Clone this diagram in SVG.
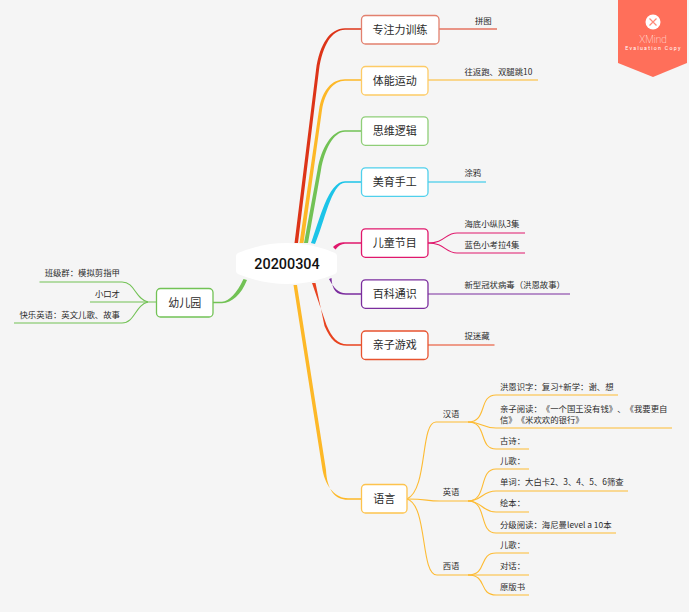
<svg xmlns="http://www.w3.org/2000/svg" width="689" height="612" viewBox="0 0 689 612">
<style>
text{font-family:"Noto Sans CJK SC","Noto Sans",Roboto,sans-serif;fill:#2b2b2b;text-spacing-trim:space-all}
.t{font-size:11px;text-anchor:middle}
.s{font-size:8.4px}
.e{text-anchor:end}
.n{fill:#fff;stroke-width:1.3}
.l{fill:none;stroke-width:1.1}
.org{stroke:#FDBB33}
</style>
<rect width="689" height="612" fill="#F5F5F5"/>
<g id="connectors">
<path fill="#DD3418" d="M294.500 243L316 70C319.500 44 330 28.200 345 28.200H361V29.800H345C331.500 29.800 322.500 46 319 70L298 243Z"/>
<path fill="#FDB827" d="M299.500 243L319 110C322 90 332 79.200 345 79.200H361V80.800H345C333.500 80.800 325 92 322 110L303.500 243Z"/>
<path fill="#72C255" d="M304 243L317.500 170C321 148 332 130.200 345 130.200H361V131.800H345C333.500 131.800 324.500 150 321 170L308 243Z"/>
<path fill="#1CC4E8" d="M311 243C319 222 328 181.200 345 181.200H361V182.800H345C331.500 182.800 324 224 315 244Z"/>
<path fill="#E0186C" d="M333 247C337 243.500 340 242.200 345 242.200H361V243.800H345C341 243.800 338.500 246 335.500 249.500Z"/>
<path fill="#7B2D9E" d="M329 279C334 288 338 293.200 346 293.200H361V294.800H346C337 294.800 332 291 331.500 278Z"/>
<path fill="#E8431F" d="M312 283L326.500 325C332 338 338 344.200 347 344.200H361V345.800H347C337 345.800 330.500 340 324.500 326L315.500 283Z"/>
<path fill="#FDB827" d="M293.500 285L322.500 470C326 488 336 498.200 348 498.200H361V499.800H348C335 499.800 327 490 326 470L297 285Z"/>
<path fill="#72C255" d="M243.500 279C237 293 229 301.200 222 301.700H213V303.300H222C232 302.700 241 295 247 280Z"/>
<g class="l" stroke="#72C255">
<path d="M156 302H90"/>
<path d="M148 302C135 299 135 282 122 282H39.500"/>
<path d="M148 302C135 305 135 323 122 323H14"/>
</g>
<g class="l">
<path stroke="#DD3418" d="M439 29H497"/>
<path stroke="#FDB827" d="M428 80H538"/>
<path stroke="#1CC4E8" d="M428 182H486"/>
<path stroke="#E0186C" d="M428 243C445 243 445 233 457 233H525"/>
<path stroke="#E0186C" d="M428 243C445 243 445 253 457 253H525"/>
<path stroke="#7B2D9E" d="M428 294H570"/>
<path stroke="#E8431F" d="M428 345H494.500"/>
</g>
<g class="l org">
<path d="M407 499C428 490 420 422 436 422H468"/>
<path d="M407 499C428 499 425 501 440 501H468"/>
<path d="M407 499C428 505 420 575 437 575H468"/>
<path d="M468 422C488 422 478 395 496 395H618"/>
<path d="M468 422C482 422 482 428 496 428H672"/>
<path d="M468 422C488 422 478 449 496 449H529"/>
<path d="M468 501C488 501 478 469 496 469H529"/>
<path d="M468 501C482 501 482 491 496 491H628"/>
<path d="M468 501C482 501 482 512 496 512H529"/>
<path d="M468 501C488 501 478 533 496 533H616"/>
<path d="M468 575C488 575 478 553 496 553H529"/>
<path d="M468 575H529"/>
<path d="M468 575C488 575 478 595 496 595H529"/>
</g>
</g>
<g id="root"><path fill="#fff" d="M238 253Q262 243 287 243Q312 243 335 253Q337 254 337 256V271Q337 273 335 274Q312 284 287 284Q262 284 238 274Q236 273 236 271V256Q236 254 238 253Z"/><text x="287" y="269" text-anchor="middle" style="font-family:Roboto,sans-serif;font-size:14.400px;font-weight:500;fill:#111">20200304</text></g>
<g id="n1"><rect class="n" x="361.500" y="15.500" width="77.500" height="28.500" rx="4" stroke="#E2806E"/><text class="t" x="400" y="33.500">专注力训练</text></g>
<g id="n2"><rect class="n" x="361.500" y="66.500" width="66.500" height="28.500" rx="4" stroke="#FDCB66"/><text class="t" x="394.700" y="84.500">体能运动</text></g>
<g id="n3"><rect class="n" x="361.500" y="116.800" width="66.500" height="28.500" rx="4" stroke="#8FCE78"/><text class="t" x="394.700" y="135">思维逻辑</text></g>
<g id="n4"><rect class="n" x="361.500" y="167.800" width="66.500" height="28.500" rx="4" stroke="#4FD0EC"/><text class="t" x="394.700" y="186">美育手工</text></g>
<g id="n5"><rect class="n" x="361.500" y="228.800" width="66.500" height="28.500" rx="4" stroke="#E0186C"/><text class="t" x="394.700" y="247">儿童节目</text></g>
<g id="n6"><rect class="n" x="361.500" y="279.800" width="66.500" height="28.500" rx="4" stroke="#7B2D9E"/><text class="t" x="394.700" y="298">百科通识</text></g>
<g id="n7"><rect class="n" x="361.500" y="331" width="66.500" height="28.500" rx="4" stroke="#E8532F"/><text class="t" x="394.700" y="349">亲子游戏</text></g>
<g id="n8"><rect class="n" x="361.500" y="484.500" width="45.500" height="28.500" rx="4" stroke="#FDC34D"/><text class="t" x="384.200" y="503">语言</text></g>
<g id="n9"><rect class="n" x="156.500" y="288.500" width="56.500" height="28.500" rx="4" stroke="#72C255"/><text class="t" x="184.700" y="306.500">幼儿园</text></g>
<g id="labels" class="s">
<text class="s e" x="120" y="276">班级群：模拟剪指甲</text>
<text class="s e" x="120" y="297">小口才</text>
<text class="s e" x="120" y="318">快乐英语：英文儿歌、故事</text>
<text class="s" x="475" y="24">拼图</text>
<text class="s" x="464.500" y="75">往返跑、双腿跳10</text>
<text class="s" x="464.500" y="176">涂鸦</text>
<text class="s" x="464.500" y="227">海底小纵队3集</text>
<text class="s" x="464.500" y="248">蓝色小考拉4集</text>
<text class="s" x="464.500" y="288">新型冠状病毒（洪恩故事）</text>
<text class="s" x="464.500" y="339">捉迷藏</text>
<text class="s" x="442.700" y="417">汉语</text>
<text class="s" x="442.700" y="495">英语</text>
<text class="s" x="442.700" y="569">西语</text>
<text class="s" x="500" y="390">洪恩识字：复习+新学：谢、想</text>
<text class="s" x="500" y="412">亲子阅读：《一个国王没有钱》、《我要更自</text>
<text class="s" x="500" y="423">信》《米欢欢的银行》</text>
<text class="s" x="500" y="444">古诗：</text>
<text class="s" x="500" y="464">儿歌：</text>
<text class="s" x="500" y="485">单词：大白卡2、3、4、5、6筛查</text>
<text class="s" x="500" y="506">绘本：</text>
<text class="s" x="500" y="528">分级阅读：海尼曼level a 10本</text>
<text class="s" x="500" y="548">儿歌：</text>
<text class="s" x="500" y="569">对话：</text>
<text class="s" x="500" y="590">原版书</text>
</g>
<g id="watermark">
<path fill="#FF6F5A" d="M618 0H687V63L653 77L618 63Z"/>
<circle cx="653" cy="22" r="7.500" fill="#fff"/>
<path d="M649.500 18.500L656.500 25.500M656.500 18.500L649.500 25.500" stroke="#FF8A78" stroke-width="1.200" fill="none"/>
<text x="653" y="43" text-anchor="middle" style="font-family:Roboto,sans-serif;font-size:10px;font-weight:100;fill:#fff">XMind</text>
<text x="653.500" y="49.500" text-anchor="middle" style="font-family:Roboto,sans-serif;font-size:5.200px;letter-spacing:1.300px;fill:#fff">Evaluation Copy</text>
</g>
</svg>
